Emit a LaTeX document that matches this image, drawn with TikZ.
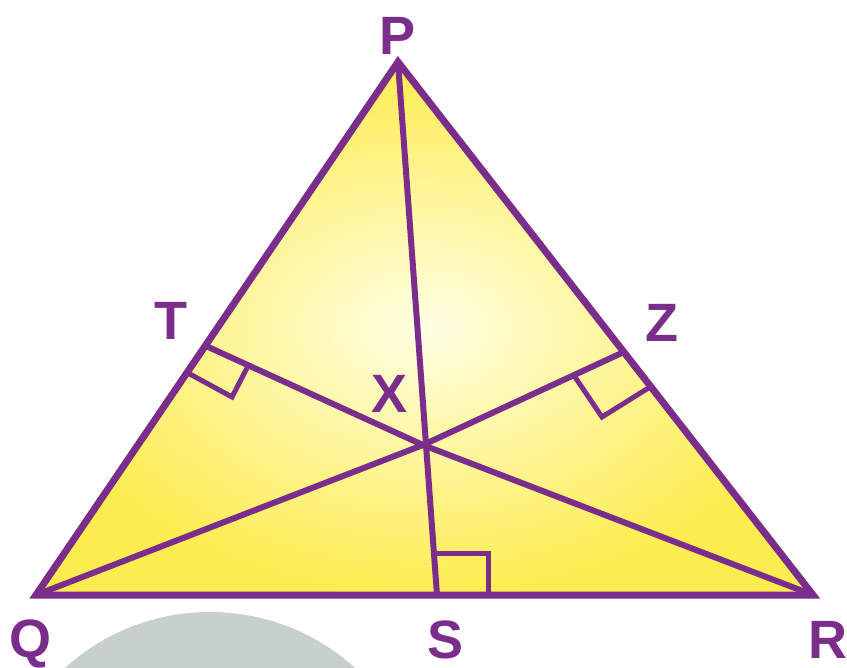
\documentclass[tikz,border=0pt]{standalone}
\usepackage{fontspec}
\setmainfont{Liberation Sans}
\usetikzlibrary{calc}
\definecolor{pur}{RGB}{123,45,139}
\definecolor{yelout}{RGB}{253,236,80}
\definecolor{yelin}{RGB}{255,255,228}
\definecolor{wm}{RGB}{200,208,204}
\begin{document}
\begin{tikzpicture}[x=1pt,y=-1pt,
  edge/.style={draw=pur,line width=7pt,line join=miter},
  alt/.style={draw=pur,line width=6pt},
  rmark/.style={draw=pur,line width=5pt,line join=miter},
  lbl/.style={text=pur,font=\fontsize{54}{54}\selectfont\bfseries,inner sep=0pt,anchor=base}]
\useasboundingbox (0,0) rectangle (847,668);
\fill[white] (0,0) rectangle (847,668);
% watermark disc
\fill[wm] (210,828) circle (216pt);
% points
\coordinate (P) at (398,62);
\coordinate (Q) at (36,595);
\coordinate (R) at (813,595);
\coordinate (S) at (437,595);
\coordinate (T) at (206,346);
\coordinate (Z) at (626,351);
\coordinate (X) at (423,445);
% fill
\shade[inner color=yelin, outer color=yelout] (P) -- (Q) -- (R) -- cycle;
% altitudes
\draw[alt] (P) -- (S);
\draw[alt] (Q) -- (X) -- (Z);
\draw[alt] (R) -- (X) -- (T);
% right-angle marks
\coordinate (t1) at (188,373);
\coordinate (t2) at (232,397);
\coordinate (t3) at (247,368);
\draw[rmark] (t1) -- (t2) -- (t3);
\coordinate (z1) at (575,377);
\coordinate (z2) at (602,417);
\coordinate (z3) at (650,387);
\draw[rmark] (z1) -- (z2) -- (z3);
\coordinate (s1) at (434,553);
\coordinate (s2) at (488,553);
\coordinate (s3) at (488,595);
\draw[rmark] (s1) -- (s2) -- (s3);
% triangle
\draw[edge] (P) -- (Q) -- (R) -- cycle;
% labels
\node[lbl] (lP) at (398,55) {P};
\node[lbl] (lT) at (171,340) {T};
\node[lbl] (lZ) at (662,342) {Z};
\node[lbl] (lX) at (390,413) {X};
\node[lbl] (lQ) at (31,657) {Q};
\node[lbl] (lS) at (446,658) {S};
\node[lbl] (lR) at (828,658) {R};
\end{tikzpicture}
\end{document}
